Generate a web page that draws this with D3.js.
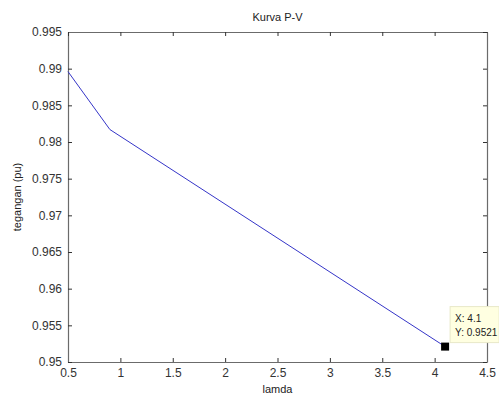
<!DOCTYPE html>
<html>
<head>
<meta charset="utf-8">
<script src="https://cdn.jsdelivr.net/npm/d3@7"></script>
<style>
  body { margin: 0; background: #fff; }
  svg text { font-family: "Liberation Sans", Arial, sans-serif; }
</style>
</head>
<body>
<div id="chart"></div>
<script>
  // data
  const lamda = [0.5, 0.9, 4.1];
  const tegangan = [0.9896, 0.9817, 0.9521];
  const xTicks = [0.5, 1, 1.5, 2, 2.5, 3, 3.5, 4, 4.5];
  const yTicks = [0.95, 0.955, 0.96, 0.965, 0.97, 0.975, 0.98, 0.985, 0.99, 0.995];
  const marker = { x: 4.1, y: 0.9521 };

  const W = 499, H = 394;
  const margin = { top: 32, right: 12, bottom: 32, left: 68 },
    width = W - margin.left - margin.right,
    height = H - margin.top - margin.bottom;

  const svg = d3.select('#chart')
    .append('svg')
    .attr('width', W)
    .attr('height', H);

  const g = svg.append('g')
    .attr('transform', 'translate(' + margin.left + ',' + margin.top + ')');

  const x = d3.scaleLinear().domain([0.5, 4.5]).range([0, width]);
  const y = d3.scaleLinear().domain([0.95, 0.995]).range([height, 0]);

  const fmt = d => String(+d.toFixed(3));
  const axisColor = '#6b6b6b';

  // bottom / left axes with labels, ticks pointing inward
  const xAxis = g.append('g')
    .attr('transform', 'translate(0,' + height + ')')
    .call(d3.axisBottom(x).tickValues(xTicks).tickFormat(fmt).tickSizeInner(-4).tickSizeOuter(0).tickPadding(8));
  const yAxis = g.append('g')
    .call(d3.axisLeft(y).tickValues(yTicks).tickFormat(fmt).tickSizeInner(-4).tickSizeOuter(0).tickPadding(6));

  // top / right axes, ticks only
  const xTop = g.append('g')
    .call(d3.axisTop(x).tickValues(xTicks).tickFormat('').tickSizeInner(-4).tickSizeOuter(0));
  const yRight = g.append('g')
    .attr('transform', 'translate(' + width + ',0)')
    .call(d3.axisRight(y).tickValues(yTicks).tickFormat('').tickSizeInner(-4).tickSizeOuter(0));

  [xAxis, yAxis, xTop, yRight].forEach(a => {
    a.select('.domain').attr('stroke', axisColor).attr('stroke-width', 1.2);
    a.selectAll('.tick line').attr('stroke', '#333');
    a.selectAll('.tick text').attr('fill', '#333').style('font-size', '12px');
  });
  xAxis.selectAll('.tick text').attr('dy', '0.6em');

  // the curve
  const pts = lamda.map((v, i) => ({ x: v, y: tegangan[i] }));
  g.append('path')
    .datum(pts)
    .attr('fill', 'none')
    .attr('stroke', '#3535c8')
    .attr('stroke-width', 1)
    .attr('d', d3.line().x(d => x(d.x)).y(d => y(d.y)));

  // data cursor
  g.append('rect')
    .attr('x', x(marker.x) - 4)
    .attr('y', y(marker.y) - 4)
    .attr('width', 8)
    .attr('height', 8)
    .attr('fill', '#000');

  const tipX = x(marker.x) + 5, tipY = y(marker.y) - 40;
  g.append('rect')
    .attr('x', tipX)
    .attr('y', tipY)
    .attr('width', 49)
    .attr('height', 36)
    .attr('fill', '#ffffe1')
    .attr('stroke', '#e8e8c8');
  g.append('text')
    .attr('x', tipX + 5).attr('y', tipY + 15)
    .style('font-size', '10px').attr('fill', '#222')
    .text('X: ' + marker.x);
  g.append('text')
    .attr('x', tipX + 5).attr('y', tipY + 29)
    .style('font-size', '10px').attr('fill', '#222')
    .text('Y: ' + marker.y);

  // titles
  svg.append('text')
    .attr('x', margin.left + width / 2).attr('y', 21)
    .attr('text-anchor', 'middle')
    .style('font-size', '11px').attr('fill', '#222')
    .text('Kurva P-V');
  svg.append('text')
    .attr('x', margin.left + width / 2).attr('y', 393)
    .attr('text-anchor', 'middle')
    .style('font-size', '11px').attr('fill', '#222')
    .text('lamda');
  svg.append('text')
    .attr('transform', 'translate(21,' + (margin.top + height / 2) + ') rotate(-90)')
    .attr('text-anchor', 'middle')
    .style('font-size', '11px').attr('fill', '#222')
    .text('tegangan (pu)');
</script>
</body>
</html>
